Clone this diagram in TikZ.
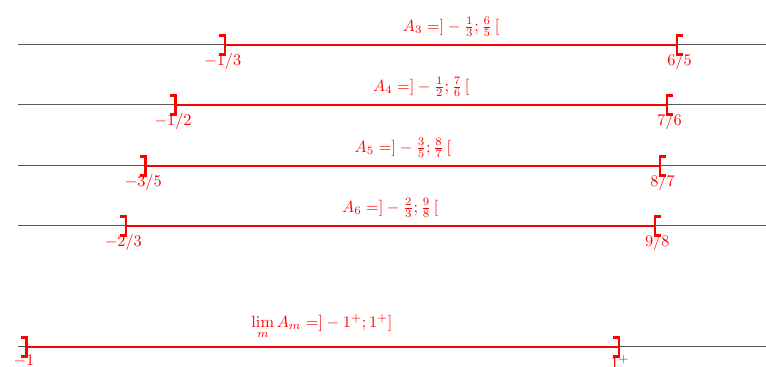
\documentclass[tikz,border=0pt]{standalone}
\usepackage{amsmath}
\usetikzlibrary{arrows.meta, positioning}

\begin{document}
\begin{tikzpicture}[
    x=6.44cm, y=0.0216cm,
    every node/.style={text=red},
    axis/.style={black!65, line width=0.6pt},
    interval/.style={red, line width=1.5pt},
    endlabel/.style={below=4pt, inner sep=1pt}
]
\useasboundingbox (-1.0805,0) rectangle (1.4899,-367);

% rows of the number line
\coordinate (s3) at (-1.02,-45);  \coordinate (e3) at (1.49,-45);
\coordinate (s4) at (-1.02,-105); \coordinate (e4) at (1.49,-105);
\coordinate (s5) at (-1.02,-166); \coordinate (e5) at (1.49,-166);
\coordinate (s6) at (-1.02,-226); \coordinate (e6) at (1.49,-226);
\coordinate (sl) at (-1.02,-347); \coordinate (el) at (1.49,-347);

\draw[axis] (s3) -- (e3);
\draw[axis] (s4) -- (e4);
\draw[axis] (s5) -- (e5);
\draw[axis] (s6) -- (e6);
\draw[axis] (sl) -- (el);

% interval ends
\coordinate (l3) at (-1/3,-45);  \coordinate (r3) at (6/5,-45);
\coordinate (l4) at (-1/2,-105); \coordinate (r4) at (7/6,-105);
\coordinate (l5) at (-3/5,-166); \coordinate (r5) at (8/7,-166);
\coordinate (l6) at (-2/3,-226); \coordinate (r6) at (9/8,-226);
\coordinate (ll) at (-1,-347);   \coordinate (rl) at (1,-347);

\draw[interval, {Bracket[reversed, width=13pt, length=3.5pt, sep=-2pt]}-{Bracket[reversed, width=13pt, length=3.5pt, sep=-2pt]}]
    (l3) -- node[above=1pt] (a3) {$A_3 = ]-\frac{1}{3} ; \frac{6}{5}\,[$} (r3);
\draw[interval, {Bracket[reversed, width=13pt, length=3.5pt, sep=-2pt]}-{Bracket[reversed, width=13pt, length=3.5pt, sep=-2pt]}]
    (l4) -- node[above=1pt] (a4) {$A_4 = ]-\frac{1}{2} ; \frac{7}{6}\,[$} (r4);
\draw[interval, {Bracket[reversed, width=13pt, length=3.5pt, sep=-2pt]}-{Bracket[reversed, width=13pt, length=3.5pt, sep=-2pt]}]
    (l5) -- node[above=1pt] (a5) {$A_5 = ]-\frac{3}{5} ; \frac{8}{7}\,[$} (r5);
\draw[interval, {Bracket[reversed, width=13pt, length=3.5pt, sep=-2pt]}-{Bracket[reversed, width=13pt, length=3.5pt, sep=-2pt]}]
    (l6) -- node[above=1pt] (a6) {$A_6 = ]-\frac{2}{3} ; \frac{9}{8}\,[$} (r6);
\draw[interval, {Bracket[reversed, width=13pt, length=3.5pt, sep=-2pt]}-{Bracket[width=13pt, length=3.5pt]}]
    (ll) -- node[above=1pt] (al) {$\lim\limits_{m} A_m = ]-1^+ ; 1^+]$} (rl);

% end labels
\node[endlabel] (tl3) at (l3) {$-1/3$};
\node[endlabel] (tr3) at (r3) {$6/5$};
\node[endlabel] (tl4) at (l4) {$-1/2$};
\node[endlabel] (tr4) at (r4) {$7/6$};
\node[endlabel] (tl5) at (l5) {$-3/5$};
\node[endlabel] (tr5) at (r5) {$8/7$};
\node[endlabel] (tl6) at (l6) {$-2/3$};
\node[endlabel] (tr6) at (r6) {$9/8$};
\node[endlabel] (tll) at (ll) {$-1$};
\node[endlabel] (trl) at (rl) {$1^+$};

\end{tikzpicture}
\end{document}
